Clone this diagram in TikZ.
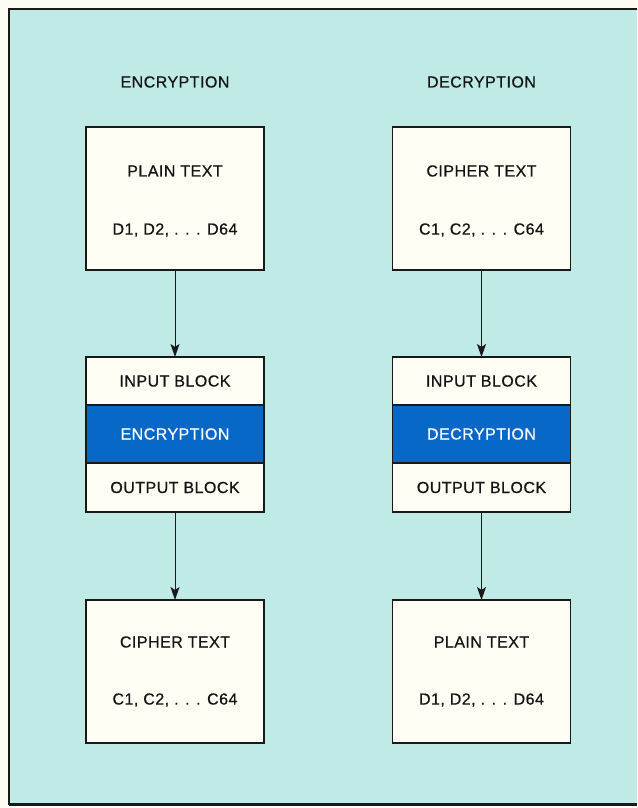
\documentclass[tikz,border=0pt]{standalone}
\usepackage{fontspec}
\setmainfont[LetterSpace=3,FakeBold=0.6]{Liberation Sans}
\usetikzlibrary{arrows.meta}
\begin{document}
\begin{tikzpicture}[x=1pt,y=1pt,
  box/.style={draw=lineColor,line width=1.6pt,fill=boxColor,minimum width=178pt,inner sep=0pt,outer sep=0pt},
  lbl/.style={text=textColor,inner sep=0pt,outer sep=0pt,font=\fontsize{16}{19}\selectfont},
  link/.style={draw=lineColor,line width=1pt,-{Stealth[length=13pt,width=9pt,inset=3pt]}}]
\definecolor{pageColor}{RGB}{253,252,242}
\definecolor{bgColor}{RGB}{192,234,230}
\definecolor{boxColor}{RGB}{255,254,245}
\definecolor{blockColor}{RGB}{8,104,200}
\definecolor{lineColor}{RGB}{25,25,25}
\definecolor{textColor}{RGB}{20,20,20}
\path[use as bounding box,fill=pageColor] (0,0) rectangle (637,808);

% frame
\path[fill=bgColor] (9,3) rectangle (637,799);
\path[draw=lineColor,line width=1.5pt] (637,799) -- (9,799) -- (9,3);
\path[draw=lineColor,line width=3pt] (9,3) -- (637,3);

% encryption column
\node[lbl] (hEnc) at (175,726) {ENCRYPTION};

\node[box,minimum height=143pt] (pIn) at (175,609.5) {};
\node[lbl] (pInA) at (175,637) {PLAIN TEXT};
\node[lbl] (pInB) at (175,578) {D1, D2, . . . D64};

\node[box,minimum height=48pt] (inL) at (175,427) {};
\node[lbl] at (inL) {INPUT BLOCK};
\node[box,minimum height=58pt,fill=blockColor] (encL) at (175,374) {};
\node[lbl,text=white] at (encL) {ENCRYPTION};
\node[box,minimum height=49pt] (outL) at (175,320.5) {};
\node[lbl] at (outL) {OUTPUT BLOCK};

\node[box,minimum height=143pt] (cOut) at (175,136.5) {};
\node[lbl] (cOutA) at (175,166) {CIPHER TEXT};
\node[lbl] (cOutB) at (175,108) {C1, C2, . . . C64};

\draw[link] (pIn.south) -- (inL.north);
\draw[link] (outL.south) -- (cOut.north);

% decryption column
\node[lbl] (hDec) at (481.5,726) {DECRYPTION};

\node[box,minimum height=143pt] (cIn) at (481.5,609.5) {};
\node[lbl] (cInA) at (481.5,637) {CIPHER TEXT};
\node[lbl] (cInB) at (481.5,578) {C1, C2, . . . C64};

\node[box,minimum height=48pt] (inR) at (481.5,427) {};
\node[lbl] at (inR) {INPUT BLOCK};
\node[box,minimum height=58pt,fill=blockColor] (decR) at (481.5,374) {};
\node[lbl,text=white] at (decR) {DECRYPTION};
\node[box,minimum height=49pt] (outR) at (481.5,320.5) {};
\node[lbl] at (outR) {OUTPUT BLOCK};

\node[box,minimum height=143pt] (pOut) at (481.5,136.5) {};
\node[lbl] (pOutA) at (481.5,166) {PLAIN TEXT};
\node[lbl] (pOutB) at (481.5,108) {D1, D2, . . . D64};

\draw[link] (cIn.south) -- (inR.north);
\draw[link] (outR.south) -- (pOut.north);
\end{tikzpicture}
\end{document}
